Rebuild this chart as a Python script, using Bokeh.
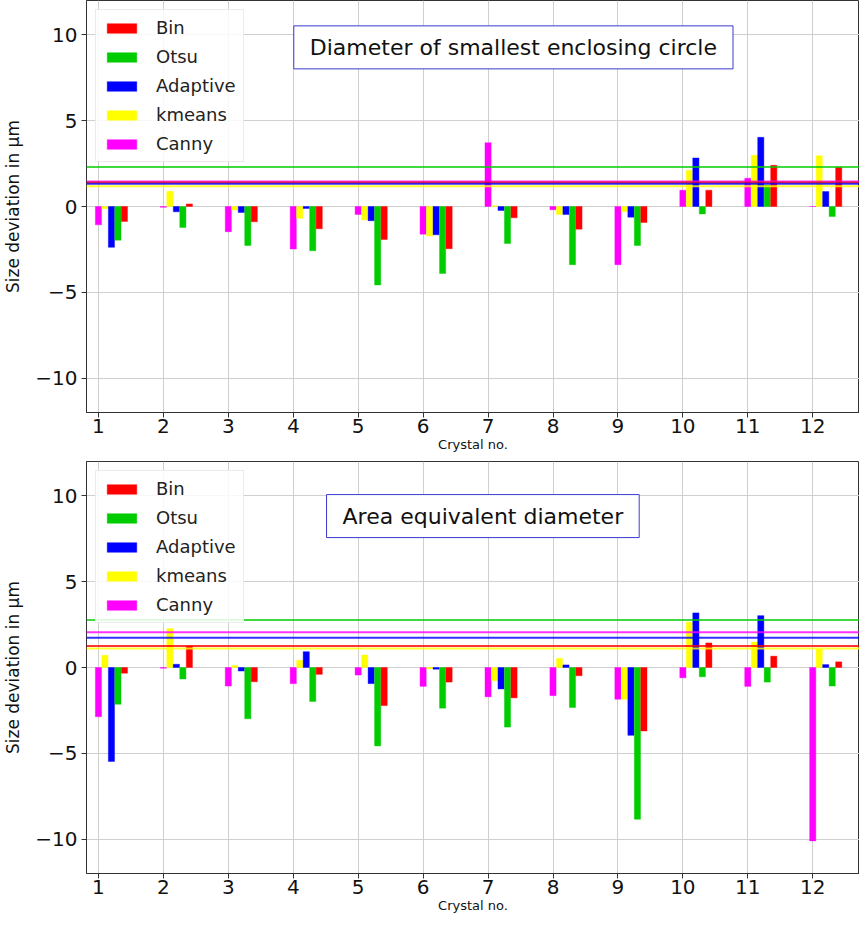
from bokeh.plotting import figure
from bokeh.models import Range1d, Span, Label, Legend, LegendItem, FixedTicker, ColumnDataSource
from bokeh.layouts import column
from bokeh.transform import dodge
from bokeh.embed import file_html
from bokeh.resources import INLINE

crystals = [1, 2, 3, 4, 5, 6, 7, 8, 9, 10, 11, 12]
methods = ["Bin", "Otsu", "Adaptive", "kmeans", "Canny"]
colors = {"Bin": "#ff0000", "Otsu": "#00cc00", "Adaptive": "#0000ff",
          "kmeans": "#ffff00", "Canny": "#ff00ff"}
offsets = {"Canny": 0.0, "kmeans": 0.1, "Adaptive": 0.2, "Otsu": 0.3, "Bin": 0.4}

# Diameter of smallest enclosing circle
sec_canny = [-1.07, -0.05, -1.47, -2.48, -0.47, -1.61, 3.72, -0.19, -3.39, 0.95, 1.65, 0.0]
sec_kmeans = [-0.13, 0.89, -0.21, -0.68, -0.79, -1.72, 0.05, -0.47, -0.29, 2.11, 2.98, 2.95]
sec_adaptive = [-2.38, -0.31, -0.35, -0.12, -0.83, -1.65, -0.23, -0.47, -0.62, 2.83, 4.03, 0.87]
sec_otsu = [-1.96, -1.22, -2.27, -2.58, -4.57, -3.90, -2.15, -3.39, -2.27, -0.43, 1.25, -0.58]
sec_bin = [-0.87, 0.15, -0.89, -1.30, -1.92, -2.46, -0.66, -1.32, -0.93, 0.95, 2.40, 2.29]
sec_lines = {"kmeans": 1.18, "Adaptive": 1.32, "Bin": 1.40, "Canny": 1.45, "Otsu": 2.30}

# Area equivalent diameter
aed_canny = [-2.87, -0.04, -1.08, -0.94, -0.44, -1.10, -1.71, -1.64, -1.85, -0.60, -1.10, -10.1]
aed_kmeans = [0.71, 2.27, 0.12, 0.42, 0.73, -0.08, -0.77, 0.52, -1.85, 2.64, 1.48, 1.08]
aed_adaptive = [-5.47, 0.19, -0.21, 0.92, -0.94, -0.10, -1.25, 0.15, -3.95, 3.18, 3.02, 0.17]
aed_otsu = [-2.14, -0.67, -2.99, -1.98, -4.57, -2.37, -3.47, -2.33, -8.84, -0.54, -0.85, -1.08]
aed_bin = [-0.33, 1.25, -0.83, -0.40, -2.22, -0.85, -1.77, -0.48, -3.70, 1.43, 0.66, 0.33]
aed_lines = {"kmeans": 1.10, "Bin": 1.25, "Adaptive": 1.73, "Canny": 2.06, "Otsu": 2.76}

y_ticks = [-10, -5, 0, 5, 10]
FONT = "DejaVu Sans"


def make_panel(values, lines, title, top_border, bottom_border, frame_h):
    p = figure(width=859, height=frame_h + top_border + bottom_border,
               output_backend="svg", toolbar_location=None,
               x_range=Range1d(0.816, 12.72), y_range=Range1d(-12, 12),
               min_border_left=84, min_border_right=0,
               min_border_top=top_border, min_border_bottom=bottom_border)
    p.background_fill_color = "white"
    p.border_fill_color = "white"
    p.outline_line_color = "#333333"
    p.outline_line_width = 1

    src = ColumnDataSource(dict(x=crystals, **{m: values[m] for m in methods}))
    renderers = {}
    for m in ["Canny", "kmeans", "Adaptive", "Otsu", "Bin"]:
        renderers[m] = p.vbar(x=dodge("x", offsets[m]), top=m, bottom=0, width=0.095,
                              source=src, fill_color=colors[m], line_color=colors[m],
                              line_alpha=0.4, line_width=1)

    for m in ["Canny", "Bin", "Adaptive", "kmeans", "Otsu"]:
        p.add_layout(Span(location=lines[m], dimension="width", line_color=colors[m],
                          line_width=2, line_alpha=0.8 if m != "Otsu" else 0.75))

    items = [LegendItem(label=m, renderers=[renderers[m]]) for m in methods]
    legend = Legend(items=items, location="top_left", margin=9, padding=7,
                    glyph_width=37, glyph_height=12, label_height=20, spacing=8,
                    label_standoff=16, label_text_font=FONT, label_text_font_size="18px",
                    label_text_color="#222222",
                    border_line_color="#d8d8d8", border_line_width=1,
                    background_fill_color="white", background_fill_alpha=0.85)
    p.add_layout(legend, "center")

    p.add_layout(Label(x=title[1], y=title[2], text=title[0], text_align="center",
                       text_baseline="middle", text_font=FONT, text_font_size="22px",
                       text_color="#111111", background_fill_color="white",
                       border_line_color="#3a3ad0", border_line_width=1, padding=(16, 9)))

    p.xaxis.ticker = FixedTicker(ticks=crystals)
    p.yaxis.ticker = FixedTicker(ticks=y_ticks)
    p.yaxis.major_label_overrides = {-10: "\u221210", -5: "\u22125"}
    for ax in (p.xaxis, p.yaxis):
        ax.major_label_text_font = FONT
        ax.major_label_text_font_size = "20px"
        ax.major_label_text_color = "#111111"
        ax.major_tick_out = 5
        ax.major_tick_in = 0
        ax.minor_tick_out = 0
        ax.minor_tick_in = 0
        ax.axis_line_color = "#333333"
        ax.major_tick_line_color = "#333333"
        ax.axis_label_text_font = FONT
        ax.axis_label_text_font_style = "normal"
        ax.axis_label_text_color = "#111111"
    p.xaxis.axis_label = "Crystal no."
    p.xaxis.axis_label_text_font_size = "13px"
    p.xaxis.axis_label_standoff = 1
    p.xaxis.major_label_standoff = 1
    p.yaxis.axis_label = "Size deviation in \u03bcm"
    p.yaxis.axis_label_text_font_size = "17px"
    p.yaxis.axis_label_standoff = 9
    p.yaxis.major_label_standoff = 4

    p.xgrid.grid_line_color = "#cfcfcf"
    p.ygrid.grid_line_color = "#cfcfcf"
    p.xgrid.grid_line_width = 1
    p.ygrid.grid_line_width = 1
    return p


top_vals = {"Bin": sec_bin, "Otsu": sec_otsu, "Adaptive": sec_adaptive,
            "kmeans": sec_kmeans, "Canny": sec_canny}
bot_vals = {"Bin": aed_bin, "Otsu": aed_otsu, "Adaptive": aed_adaptive,
            "kmeans": aed_kmeans, "Canny": aed_canny}

p1 = make_panel(top_vals, sec_lines, ("Diameter of smallest enclosing circle", 7.39, 9.27),
                0, 49, 412)
p2 = make_panel(bot_vals, aed_lines, ("Area equivalent diameter", 6.92, 8.82),
                0, 47, 412)

layout = column(p1, p2, spacing=0)
open("out.html", "w").write(file_html(layout, INLINE))
